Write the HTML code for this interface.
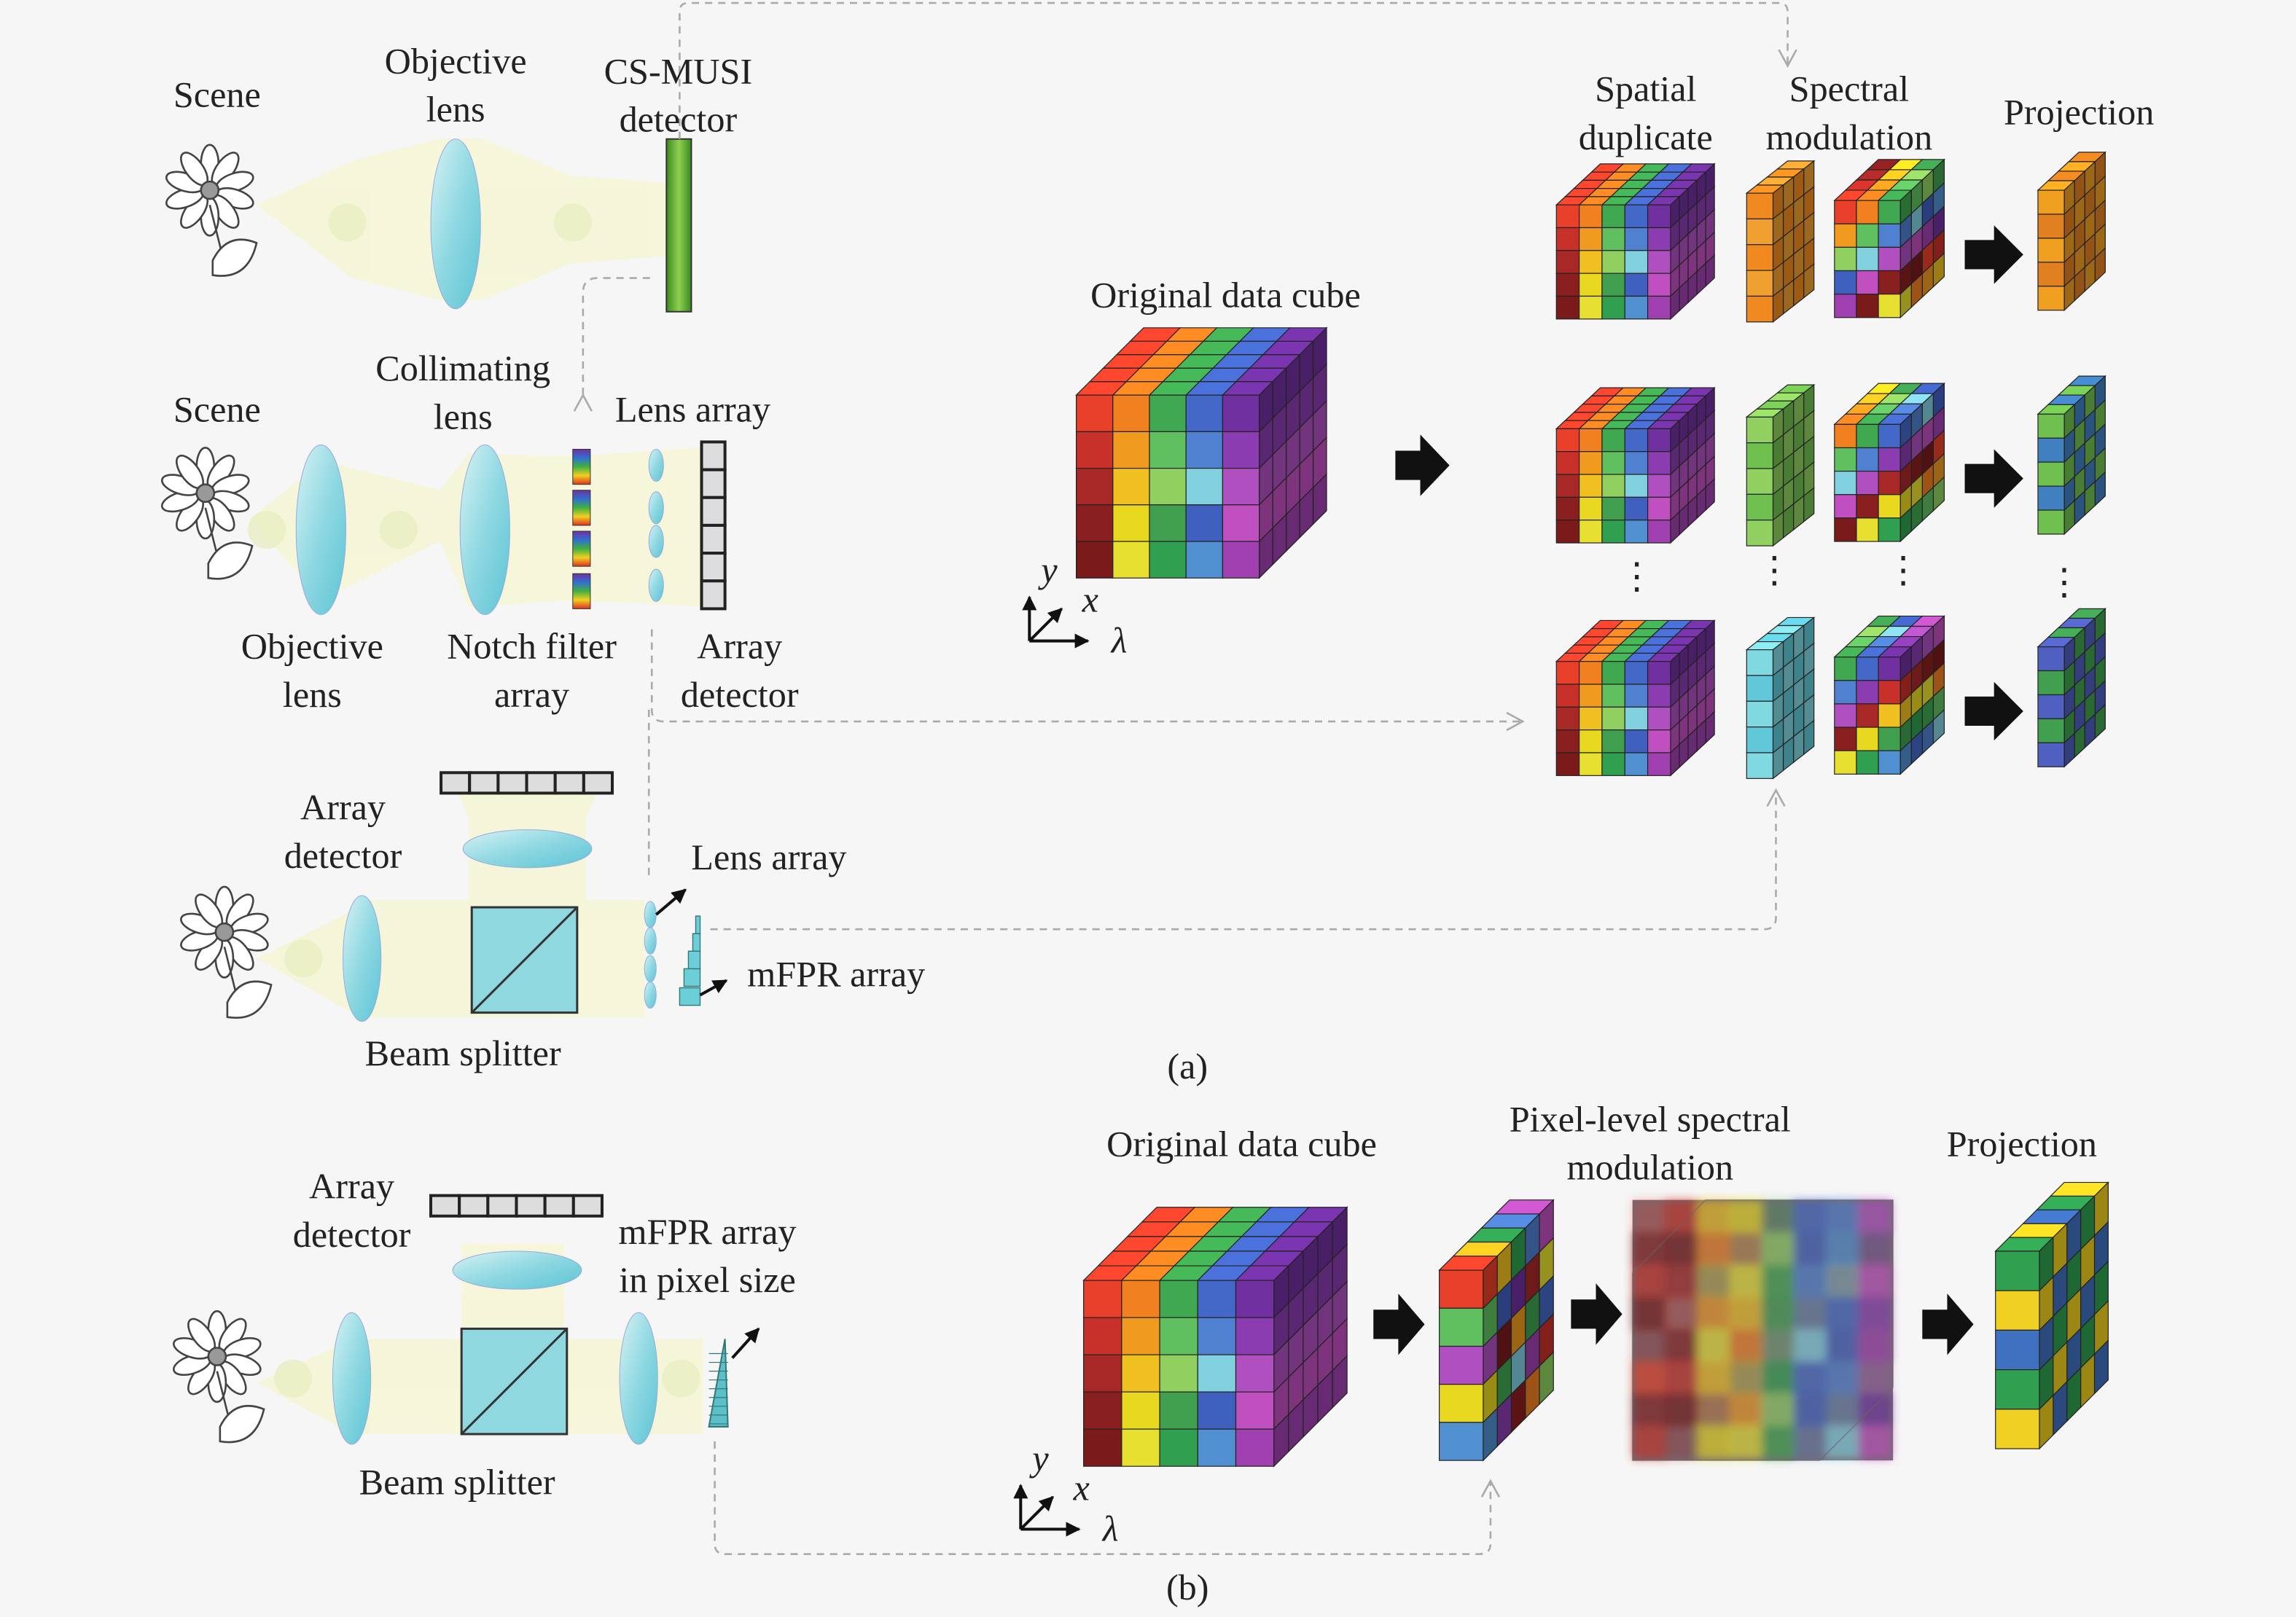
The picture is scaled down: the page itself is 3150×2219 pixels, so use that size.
<!DOCTYPE html>
<html><head><meta charset="utf-8">
<style>
html,body{margin:0;padding:0;background:#f6f6f6;}
svg{display:block;}
text{font-family:"Liberation Serif",serif;font-size:25px;fill:#222;}
</style></head>
<body>
<svg id="s" width="3150" height="2219" viewBox="0 0 1568 1105" xmlns="http://www.w3.org/2000/svg">
<defs>
<linearGradient id="lg" x1="0" y1="0" x2="1" y2="1">
<stop offset="0" stop-color="#d6f2f4"/><stop offset="0.5" stop-color="#8fd8e2"/><stop offset="1" stop-color="#5cc4d4"/></linearGradient>
<linearGradient id="rb" x1="0" y1="0" x2="0" y2="1">
<stop offset="0" stop-color="#7030a0"/><stop offset="0.25" stop-color="#3070d0"/><stop offset="0.5" stop-color="#40b040"/><stop offset="0.75" stop-color="#f0d020"/><stop offset="1" stop-color="#e03020"/></linearGradient>
<linearGradient id="gb" x1="0" y1="0" x2="1" y2="0">
<stop offset="0" stop-color="#3a8a20"/><stop offset="0.5" stop-color="#8fd050"/><stop offset="1" stop-color="#3a8a20"/></linearGradient>
<marker id="oa" markerWidth="14" markerHeight="14" refX="12" refY="7" orient="auto" markerUnits="userSpaceOnUse">
<path d="M1,1 L12,7 L1,13" fill="none" stroke="#aaa" stroke-width="1.3"/></marker>
<marker id="ba" markerWidth="10" markerHeight="10" refX="9" refY="5" orient="auto" markerUnits="userSpaceOnUse">
<path d="M0,0 L10,5 L0,10 z" fill="#111"/></marker>
<filter id="bl"><feGaussianBlur stdDeviation="3"/></filter>
</defs>
<rect width="1568" height="1105" fill="#f6f6f6"/>
<g id="beams" fill="#f5f7d8" opacity="0.95"></g>
<g id="main"></g>
<g id="dash" fill="none" stroke="#aaa" stroke-width="1.3" stroke-dasharray="5,4">
<path d="M398,270 L398,200 Q398,190 408,190 L445,190" marker-start="url(#oa)"/>
<path d="M464,95 L464,8 Q464,2 470,2 L1215,2 Q1221,2 1221,8 L1221,45" marker-end="url(#oa)"/>
<path d="M445,430 L445,485 Q445,493 453,493 L1040,493" marker-end="url(#oa)"/>
<path d="M443,598 L443,482" />
<path d="M485,635 L1205,635 Q1213,635 1213,627 L1213,540" marker-end="url(#oa)"/>
<path d="M488,985 L488,1055 Q488,1062 495,1062 L1010,1062 Q1018,1062 1018,1055 L1018,1012" marker-end="url(#oa)"/>
</g>
<g id="txt">
<text x="148" y="73" text-anchor="middle">Scene</text>
<text x="311" y="50" text-anchor="middle">Objective</text>
<text x="311" y="83" text-anchor="middle">lens</text>
<text x="463" y="57" text-anchor="middle">CS-MUSI</text>
<text x="463" y="90" text-anchor="middle">detector</text>
<text x="148" y="288" text-anchor="middle">Scene</text>
<text x="316" y="260" text-anchor="middle">Collimating</text>
<text x="316" y="293" text-anchor="middle">lens</text>
<text x="473" y="288" text-anchor="middle">Lens array</text>
<text x="213" y="450" text-anchor="middle">Objective</text>
<text x="213" y="483" text-anchor="middle">lens</text>
<text x="363" y="450" text-anchor="middle">Notch filter</text>
<text x="363" y="483" text-anchor="middle">array</text>
<text x="505" y="450" text-anchor="middle">Array</text>
<text x="505" y="483" text-anchor="middle">detector</text>
<text x="234" y="560" text-anchor="middle">Array</text>
<text x="234" y="593" text-anchor="middle">detector</text>
<text x="525" y="594" text-anchor="middle">Lens array</text>
<text x="571" y="674" text-anchor="middle">mFPR array</text>
<text x="316" y="728" text-anchor="middle">Beam splitter</text>
<text x="811" y="737" text-anchor="middle">(a)</text>
<text x="837" y="210" text-anchor="middle">Original data cube</text>
<text x="1124" y="69" text-anchor="middle">Spatial</text>
<text x="1124" y="102" text-anchor="middle">duplicate</text>
<text x="1263" y="69" text-anchor="middle">Spectral</text>
<text x="1263" y="102" text-anchor="middle">modulation</text>
<text x="1420" y="85" text-anchor="middle">Projection</text>
<text x="240" y="819" text-anchor="middle">Array</text>
<text x="240" y="852" text-anchor="middle">detector</text>
<text x="483" y="850" text-anchor="middle">mFPR array</text>
<text x="483" y="883" text-anchor="middle">in pixel size</text>
<text x="312" y="1021" text-anchor="middle">Beam splitter</text>
<text x="848" y="790" text-anchor="middle">Original data cube</text>
<text x="1127" y="773" text-anchor="middle">Pixel-level spectral</text>
<text x="1127" y="806" text-anchor="middle">modulation</text>
<text x="1381" y="790" text-anchor="middle">Projection</text>
<text x="811" y="1093" text-anchor="middle">(b)</text>
<text x="1118" y="402" text-anchor="middle">⋮</text>
<text x="1212" y="398" text-anchor="middle">⋮</text>
<text x="1300" y="398" text-anchor="middle">⋮</text>
<text x="1410" y="406" text-anchor="middle">⋮</text>
</g>
</svg>
<script>
const NS="http://www.w3.org/2000/svg";
const M=document.getElementById('main'),B=document.getElementById('beams');
function el(t,a,p){const e=document.createElementNS(NS,t);for(const k in a)e.setAttribute(k,a[k]);(p||M).appendChild(e);return e;}
const P=[['#e8402a','#c8302a','#a82828','#8a1f1f','#7a1a1a'],['#f08020','#f09a20','#f0c020','#e8d820','#e8e030'],['#40a850','#60c060','#90d060','#40a050','#30a050'],['#4468c8','#5080d0','#80d0e0','#4060c0','#5090d0'],['#7030a0','#8a3cb0','#b050c0','#c050c0','#a040b0']];
function shade(c,f){let n=parseInt(c.slice(1),16);let r=n>>16,g=(n>>8)&255,b=n&255;r=Math.min(255,Math.round(r*f));g=Math.min(255,Math.round(g*f));b=Math.min(255,Math.round(b*f));return 'rgb('+r+','+g+','+b+')';}
function cube(x,y,w,h,cols,rows,L,dx,dy,cf,g){
 g=g||M;const cw=w/cols,ch=h/rows,ddx=dx/L,ddy=dy/L;
 for(let l=L-1;l>=0;l--)for(let c=0;c<cols;c++){const x0=x+c*cw+l*ddx,y0=y+l*ddy;
  el('polygon',{points:`${x0},${y0} ${x0+cw},${y0} ${x0+cw+ddx},${y0+ddy} ${x0+ddx},${y0+ddy}`,fill:shade(cf(c,0,l),1.1),stroke:'#222','stroke-width':0.6},g);}
 for(let l=L-1;l>=0;l--)for(let r=0;r<rows;r++){const x0=x+w+l*ddx,y0=y+r*ch+l*ddy;
  el('polygon',{points:`${x0},${y0} ${x0+ddx},${y0+ddy} ${x0+ddx},${y0+ddy+ch} ${x0},${y0+ch}`,fill:shade(cf(cols-1,r,l),0.65),stroke:'#222','stroke-width':0.6},g);}
 for(let c=0;c<cols;c++)for(let r=0;r<rows;r++)el('rect',{x:x+c*cw,y:y+r*ch,width:cw,height:ch,fill:cf(c,r,0),stroke:'#222','stroke-width':0.6},g);
}
const std=(c,r)=>P[c%5][r%5];
cube(735,270,125,125,5,5,5,46,-46,std);
const rows=[[140,0],[293,1],[452,2]];
const slabC=[['#f08a20','#f0a030'],['#90d060','#70c050'],['#80d8e0','#60c8d8']];
const projC=[['#f0a020','#e08020'],['#70c050','#4080c0'],['#5060c0','#40a050']];
rows.forEach(([y,i])=>{
 cube(1063,y,78,78,5,5,5,30,-28,std);
 cube(1193,y-8,18,88,1,5,4,28,-22,(c,r,l)=>slabC[i][(r+l)%2]);
 cube(1253,y-3,45,80,3,5,4,30,-28,(c,r,l)=>P[(c+r+i)%5][(r+l)%5]);
 el('polygon',{points:`1342,${y+24} 1362,${y+24} 1362,${y+14} 1382,${y+34} 1362,${y+54} 1362,${y+44} 1342,${y+44}`,fill:'#111'});
 cube(1392,y-10,18,82,1,5,4,28,-26,(c,r,l)=>projC[i][(r+l)%2]);
});
el('polygon',{points:'953,308 970,308 970,297 990,318 970,339 970,328 953,328',fill:'#111'});
cube(740,875,130,127,5,5,5,50,-50,std);
cube(983,868,30,130,1,5,5,48,-48,(c,r,l)=>P[(r*2+l)%5][(r+l*2)%5]);
// fuzzy cube
el('rect',{x:1115,y:820,width:178,height:178,fill:'#7a6e78'});
const fg=el('g',{filter:'url(#bl)'});
for(let c=0;c<8;c++)for(let r=0;r<8;r++)el('rect',{x:1115+c*22,y:820+r*22,width:23,height:23,fill:P[Math.min(4,Math.floor(c*5/8))][(r*3+c)%5],opacity:((r*7+c*3)%4==0)?0.35:0.75},fg);
el('rect',{x:1115,y:820,width:178,height:178,fill:'#555',opacity:0.15});
el('polygon',{points:'1115,870 1165,820 1293,820 1293,948 1243,998 1115,998',fill:'none',stroke:'#666','stroke-width':0.8,opacity:0.6});
cube(1363,855,30,135,1,5,5,47,-47,(c,r,l)=>['#30a050','#f0d020','#4070c0'][(r+l)%3]);
[[938,905],[1073,898],[1313,905]].forEach(([x,y])=>el('polygon',{points:`${x},${y-10} ${x+17},${y-10} ${x+17},${y-21} ${x+35},${y} ${x+17},${y+21} ${x+17},${y+10} ${x},${y+10}`,fill:'#111'}));
function axes(x,y){el('path',{d:`M${x},${y} L${x},${y-30}`,stroke:'#111','stroke-width':2,'marker-end':'url(#ba)'});
 el('path',{d:`M${x},${y} L${x+40},${y}`,stroke:'#111','stroke-width':2,'marker-end':'url(#ba)'});
 el('path',{d:`M${x},${y} L${x+22},${y-22}`,stroke:'#111','stroke-width':2,'marker-end':'url(#ba)'});
 const t=(s,a,b)=>{const e=el('text',{x:a,y:b,'font-style':'italic'});e.textContent=s;};
 t('y',x+8,y-40);t('x',x+36,y-20);t('λ',x+56,y+8);}
axes(703,438);axes(697,1045);
function flower(x,y,s){const g=el('g',{transform:`translate(${x},${y}) scale(${s})`,fill:'#fff',stroke:'#444','stroke-width':1.3});
 for(let i=0;i<10;i++)el('ellipse',{cx:0,cy:-18,rx:6,ry:13,transform:`rotate(${i*36})`},g);
 el('circle',{cx:0,cy:0,r:6,fill:'#999'},g);
 el('path',{d:'M0,10 Q5,30 10,50',fill:'none'},g);
 el('path',{d:'M2,48 Q12,28 32,36 Q26,62 2,58 z',fill:'#fff'},g);}
flower(143,130,1);flower(140,337,1);flower(153,637,1);flower(148,927,1);
function bm(pts){el('polygon',{points:pts},B);}
bm('175,140 240,110 300,95 330,95 390,120 455,125 455,175 390,180 330,205 300,205 240,190');
bm('170,355 220,315 300,335 320,310 390,312 490,305 490,415 390,410 320,415 300,370 220,410');
bm('175,655 245,620 320,620 320,690 245,695');
bm('245,615 440,615 440,695 245,695');bm('320,560 400,560 400,615 320,615');bm('310,535 410,535 400,560 320,560');
bm('175,945 240,915 480,915 480,980 240,980');bm('315,850 385,850 385,915 315,915');
[[237,152],[391,152],[182,362],[272,362],[207,655],[200,942],[465,942]].forEach(([cx,cy])=>el('circle',{cx,cy,r:13,fill:'#e8eec0',opacity:0.8},B));
function lens(cx,cy,rx,ry){el('ellipse',{cx,cy,rx,ry,fill:'url(#lg)',stroke:'#9ad','stroke-width':0.5});}
lens(311,153,17,58);lens(219,362,17,58);lens(331,362,17,58);
lens(247,655,13,43);lens(360,580,44,13);lens(240,942,13,45);lens(436,942,13,45);lens(353,868,44,13);
[318,347,370,400].forEach(y=>lens(448,y,5,11));
[625,643,662,680].forEach(y=>lens(444,y,4,9));
el('rect',{x:455,y:95,width:17,height:118,fill:'url(#gb)',stroke:'#333'});
[307,335,363,392].forEach(y=>el('rect',{x:391,y:y,width:12,height:24,fill:'url(#rb)',stroke:'#333','stroke-width':0.5}));
function adV(x,y,n){for(let i=0;i<n;i++)el('rect',{x:x,y:y+i*19,width:16,height:19,fill:'#ddd',stroke:'#222','stroke-width':2});}
adV(479,302,6);
function adH(x,y,n,w){for(let i=0;i<n;i++)el('rect',{x:x+i*w,y:y,width:w,height:14,fill:'#ddd',stroke:'#222','stroke-width':2});}
adH(301,528,6,19.5);adH(294,817,6,19.5);
function bs(x,y,s){el('rect',{x,y,width:s,height:s,fill:'#8fd8e0',stroke:'#333','stroke-width':1.5});el('path',{d:`M${x},${y+s} L${x+s},${y}`,stroke:'#333','stroke-width':1.5});}
bs(322,620,72);bs(315,908,72);
[[464,675,14,12],[467,662,11,12],[470,650,8,12],[473,638,5,12],[475,626,3,12]].forEach(([x,y,w,h])=>el('rect',{x,y,width:w,height:h,fill:'#6ccfd8',stroke:'#377','stroke-width':0.7}));
el('polygon',{points:'484,975 497,975 495,915',fill:'#5cc0c8',stroke:'#377'});
for(let y=925;y<975;y+=6)el('line',{x1:484,y1:y,x2:497,y2:y,stroke:'#377','stroke-width':0.6});
function ar(x1,y1,x2,y2){el('path',{d:`M${x1},${y1} L${x2},${y2}`,stroke:'#111','stroke-width':2,'marker-end':'url(#ba)'});}
ar(448,625,468,608);ar(478,680,496,670);ar(500,928,518,908);
</script>
</body></html>
